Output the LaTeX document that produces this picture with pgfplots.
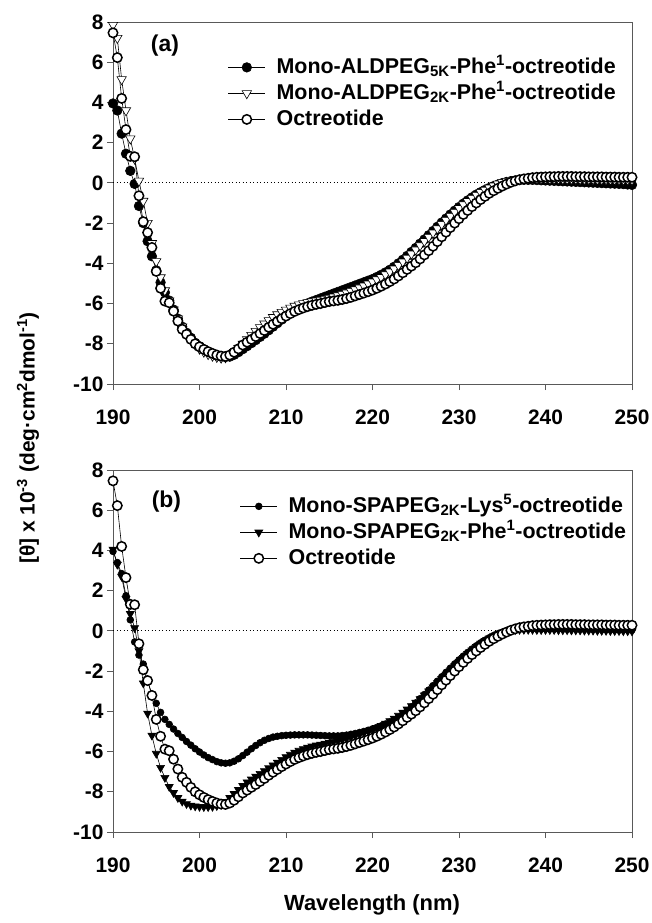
\documentclass[border=0pt]{standalone}
\usepackage{fontspec}
\setmainfont{Liberation Sans}
\usepackage{pgfplots}
\usepackage{pgfplotstable}
\pgfplotsset{compat=1.18}

% CD spectra, [theta] x 10^-3 ; O = octreotide, A5/A2 = ALDPEG 5K/2K Phe1, L5 = SPAPEG2K Lys5, P1 = SPAPEG2K Phe1
\pgfplotstableread{
x     O      A5     A2     L5     P1
190   7.46   3.95   7.85   3.95   4.05
190.5 6.23   3.6    7.2    3.4    3.3
191   4.2    2.45   5.15   2.85   2.7
191.5 2.65   1.45   3.6    1.75   1.6
192   1.32   0.6    2.2    0.55   0.85
192.5 1.3   -0.05   1.2   -0.55   0.15
193  -0.64  -1.15   0.1   -1.2   -1.0
193.5 -1.93 -2.0   -0.9   -1.65  -2.6
194  -2.47  -2.9   -2.0   -2.5   -4.1
194.5 -3.21 -3.65  -3.0   -3.15  -5.2
195  -4.4   -4.35  -3.9   -3.6   -6.1
195.5 -5.24 -4.95  -4.7   -4.05  -6.8
196  -5.88  -5.45  -5.35  -4.4   -7.3
196.5 -5.96 -5.85  -5.85  -4.65  -7.75
197  -6.38  -6.3   -6.3   -4.88  -8.05
197.5 -6.87 -6.75  -6.75  -5.1   -8.3
198  -7.28  -7.15  -7.15  -5.3   -8.48
198.5 -7.53 -7.45  -7.5   -5.5   -8.6
199  -7.78  -7.7   -7.8   -5.68  -8.68
199.5 -8.0  -7.95  -8.05  -5.86  -8.72
200  -8.15  -8.12  -8.25  -6.02  -8.74
200.5 -8.28 -8.27  -8.4   -6.17  -8.75
201  -8.39  -8.4   -8.52  -6.3   -8.75
201.5 -8.48 -8.5   -8.6   -6.4   -8.74
202  -8.56  -8.58  -8.66  -6.5   -8.7
202.5 -8.61 -8.64  -8.7   -6.56  -8.64
203  -8.63  -8.66  -8.68  -6.58  -8.5
203.5 -8.56 -8.64  -8.58  -6.56  -8.3
204  -8.42  -8.55  -8.42  -6.48  -8.1
204.5 -8.25 -8.42  -8.22  -6.36  -7.9
205  -8.06  -8.27  -8.0   -6.2   -7.7
205.5 -7.92 -8.12  -7.78  -6.03  -7.52
206  -7.78  -7.97  -7.57  -5.86  -7.38
206.5 -7.64 -7.82  -7.37  -5.7   -7.24
207  -7.49  -7.66  -7.18  -5.56  -7.1
207.5 -7.34 -7.5   -7.0   -5.44  -6.96
208  -7.18  -7.33  -6.83  -5.35  -6.82
208.5 -7.03 -7.15  -6.68  -5.28  -6.68
209  -6.89  -6.98  -6.54  -5.24  -6.54
209.5 -6.75 -6.8   -6.42  -5.21  -6.4
210  -6.62  -6.63  -6.31  -5.19  -6.27
210.5 -6.5  -6.47  -6.21  -5.18  -6.15
211  -6.39  -6.33  -6.12  -5.17  -6.04
211.5 -6.3  -6.2   -6.05  -5.17  -5.95
212  -6.22  -6.09  -5.99  -5.17  -5.87
212.5 -6.15 -5.99  -5.94  -5.17  -5.8
213  -6.09  -5.9   -5.9   -5.18  -5.74
213.5 -6.04 -5.82  -5.86  -5.19  -5.69
214  -6.0   -5.74  -5.82  -5.2   -5.65
214.5 -5.95 -5.66  -5.77  -5.21  -5.6
215  -5.9   -5.58  -5.72  -5.22  -5.55
215.5 -5.87 -5.5   -5.66  -5.22  -5.51
216  -5.84  -5.42  -5.6   -5.22  -5.47
216.5 -5.8  -5.34  -5.53  -5.2   -5.42
217  -5.75  -5.26  -5.46  -5.18  -5.36
217.5 -5.69 -5.18  -5.38  -5.14  -5.29
218  -5.62  -5.1   -5.3   -5.1   -5.22
218.5 -5.55 -5.02  -5.21  -5.05  -5.14
219  -5.48  -4.94  -5.12  -5.0   -5.06
219.5 -5.41 -4.86  -5.02  -4.94  -4.98
220  -5.33  -4.78  -4.92  -4.87  -4.9
220.5 -5.24 -4.68  -4.81  -4.8   -4.81
221  -5.14  -4.57  -4.69  -4.72  -4.71
221.5 -5.03 -4.45  -4.56  -4.63  -4.6
222  -4.91  -4.32  -4.42  -4.53  -4.48
222.5 -4.78 -4.17  -4.27  -4.42  -4.35
223  -4.63  -4.0   -4.1   -4.29  -4.21
223.5 -4.47 -3.82  -3.92  -4.14  -4.06
224  -4.3   -3.63  -3.73  -3.97  -3.9
224.5 -4.14 -3.43  -3.53  -3.78  -3.73
225  -3.97  -3.23  -3.32  -3.58  -3.56
225.5 -3.78 -3.02  -3.11  -3.37  -3.38
226  -3.58  -2.81  -2.9   -3.16  -3.2
226.5 -3.37 -2.6   -2.69  -2.94  -3.0
227  -3.15  -2.39  -2.48  -2.72  -2.8
227.5 -2.92 -2.18  -2.27  -2.5   -2.59
228  -2.68  -1.97  -2.06  -2.28  -2.38
228.5 -2.45 -1.77  -1.85  -2.06  -2.17
229  -2.22  -1.57  -1.65  -1.85  -1.95
229.5 -2.0  -1.38  -1.45  -1.64  -1.74
230  -1.78  -1.2   -1.26  -1.44  -1.53
230.5 -1.57 -1.03  -1.08  -1.25  -1.33
231  -1.37  -0.87  -0.91  -1.07  -1.14
231.5 -1.18 -0.72  -0.75  -0.9   -0.96
232  -1.0   -0.58  -0.6   -0.74  -0.79
232.5 -0.83 -0.46  -0.47  -0.59  -0.63
233  -0.67  -0.35  -0.35  -0.46  -0.49
233.5 -0.52 -0.25  -0.24  -0.34  -0.36
234  -0.39  -0.16  -0.14  -0.23  -0.25
234.5 -0.27 -0.08  -0.05  -0.14  -0.15
235  -0.16  -0.01   0.03  -0.06  -0.07
235.5 -0.06  0.05   0.09   0.0    0.0
236   0.03   0.09   0.14   0.05   0.03
236.5 0.1    0.12   0.17   0.08   0.05
237   0.16   0.14   0.19   0.1    0.06
237.5 0.2    0.15   0.2    0.11   0.06
238   0.23   0.15   0.2    0.11   0.06
238.5 0.26   0.15   0.2    0.11   0.06
239   0.28   0.14   0.2    0.11   0.05
239.5 0.29   0.13   0.2    0.1    0.05
240   0.3    0.12   0.2    0.1    0.05
240.5 0.31   0.11   0.2    0.1    0.05
241   0.31   0.1    0.2    0.1    0.05
241.5 0.32   0.09   0.2    0.1    0.04
242   0.32   0.08   0.19   0.1    0.04
242.5 0.32   0.07   0.19   0.09   0.04
243   0.32   0.06   0.19   0.09   0.03
243.5 0.31   0.05   0.19   0.09   0.03
244   0.31   0.04   0.18   0.09   0.03
244.5 0.31   0.03   0.18   0.08   0.02
245   0.3    0.02   0.18   0.08   0.02
245.5 0.3    0.01   0.18   0.08   0.02
246   0.3    0.0    0.17   0.08   0.01
246.5 0.3   -0.01   0.17   0.07   0.01
247   0.29  -0.02   0.17   0.07   0.01
247.5 0.29  -0.03   0.16   0.07   0.0
248   0.29  -0.04   0.16   0.06   0.0
248.5 0.28  -0.05   0.16   0.06   0.0
249   0.28  -0.06   0.15   0.06  -0.01
249.5 0.28  -0.08   0.15   0.05  -0.01
250   0.28  -0.1    0.15   0.05  -0.02
}\cd

\pgfplotsset{
  cdaxis/.style={
    scale only axis, width=519bp, height=362bp,
    xmin=190, xmax=250, ymin=-10, ymax=8,
    xtick={190,200,...,250}, ytick={-10,-8,...,8},
    tick pos=left, tick align=outside, major tick length=6bp,
    axis line style={draw=black!65, line width=1bp},
    major tick style={draw=black!65, line width=1bp},
    ticklabel style={font=\fontsize{21}{25}\selectfont\bfseries},
    xticklabel style={yshift=-16bp},
    /pgf/number format/assume math mode=true,
    clip=false,
    legend cell align=left,
    legend image code/.code={\draw[mark repeat=2,mark phase=2] plot coordinates {(0bp,0bp) (18.5bp,0bp) (37bp,0bp)};},
  },
  cdlegend/.style={draw=none, fill=none, inner sep=0pt, outer sep=0pt,
    font=\fontsize{21.5}{25}\selectfont\bfseries, row sep=4bp, column sep=11bp,
    nodes={inner sep=0pt, text height=17bp, text depth=5bp}},
  zeroline/.style={black, line width=0.8bp, dash pattern=on 1bp off 2.5bp, forget plot},
  sline/.style={black, line width=0.6bp},
}

\begin{document}
\begin{tikzpicture}
\path[use as bounding box] (0,0) rectangle (652bp,-923bp);

% panel (a)
\begin{axis}[cdaxis, at={(113bp,-22bp)}, anchor=north west,
    legend style={cdlegend, at={(axis description cs:0.2216,0.905)}, anchor=north west}]
\addplot[zeroline] coordinates {(190,0) (250,0)};
\addplot[sline, mark=*, mark size=4.8bp, mark options={fill=black}] table[x=x, y=A5] {\cd};
\addplot[sline, mark=triangle*, mark size=5.4bp, mark options={fill=white, rotate=180, line width=0.6bp}] table[x=x, y=A2] {\cd};
\addplot[sline, mark=*, mark size=4.7bp, mark options={fill=white, line width=1.5bp}] table[x=x, y=O] {\cd};
\legend{Mono-ALDPEG\textsubscript{5K}-Phe\textsuperscript{1}-octreotide,
        Mono-ALDPEG\textsubscript{2K}-Phe\textsuperscript{1}-octreotide,
        Octreotide}
\node[font=\fontsize{23}{27}\selectfont\bfseries] at (axis description cs:0.1,0.935) {(a)};
\end{axis}

% panel (b)
\begin{axis}[cdaxis, at={(113bp,-470bp)}, anchor=north west,
    legend style={cdlegend, at={(axis description cs:0.2447,0.93)}, anchor=north west}]
\addplot[zeroline] coordinates {(190,0) (250,0)};
\addplot[sline, mark=*, mark size=3.4bp, mark options={fill=black}] table[x=x, y=L5] {\cd};
\addplot[sline, mark=triangle*, mark size=4.6bp, mark options={fill=black, rotate=180}] table[x=x, y=P1] {\cd};
\addplot[sline, mark=*, mark size=4.7bp, mark options={fill=white, line width=1.5bp}] table[x=x, y=O] {\cd};
\legend{Mono-SPAPEG\textsubscript{2K}-Lys\textsuperscript{5}-octreotide,
        Mono-SPAPEG\textsubscript{2K}-Phe\textsuperscript{1}-octreotide,
        Octreotide}
\node[font=\fontsize{23}{27}\selectfont\bfseries] at (axis description cs:0.103,0.912) {(b)};
\end{axis}

\node[rotate=90, font=\fontsize{21}{25}\selectfont\bfseries] at (28bp,-438bp)
  {[θ] x 10\textsuperscript{-3} (deg·cm\textsuperscript{2}dmol\textsuperscript{-1})};
\node[font=\fontsize{22}{26}\selectfont\bfseries] at (372bp,-905bp) {Wavelength (nm)};
\end{tikzpicture}
\end{document}
